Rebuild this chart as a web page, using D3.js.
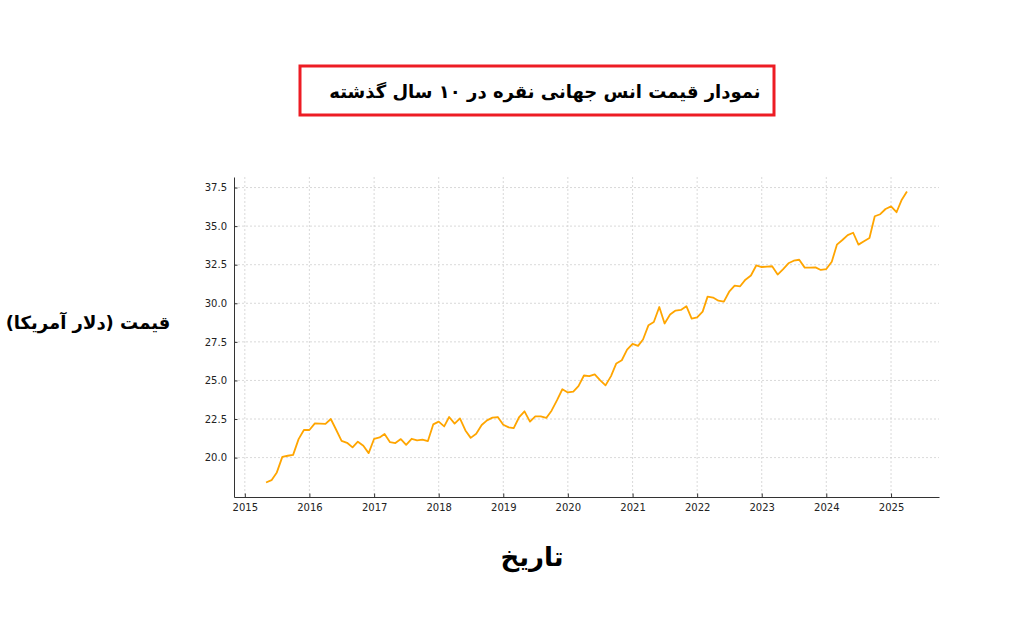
<!DOCTYPE html>
<html>
<head>
<meta charset="utf-8">
<script src="https://cdn.jsdelivr.net/npm/d3@7"></script>
<style>
  body { margin: 0; background: #fff; }
  svg { display: block; }
  .tick text { font-family: "DejaVu Sans", sans-serif; font-size: 10px; fill: #222; }
</style>
</head>
<body>
<svg id="chart"></svg>
<script>
// monthly silver price, May 2015 .. Apr 2025 (USD / oz)
const startMonth = new Date(2015, 4, 1)
const endMonth = new Date(2025, 3, 1)
const prices = [
  18.39, 18.54, 19.04, 20.05, 20.12, 20.18, 21.2, 21.79,
  21.79, 22.22, 22.2, 22.18, 22.5, 21.79, 21.09, 20.96, 20.66, 21.03, 20.77, 20.29,
  21.22, 21.31, 21.53, 21.0, 20.94, 21.2, 20.83, 21.22, 21.12, 21.16, 21.07, 22.15,
  22.33, 22.02, 22.63, 22.2, 22.54, 21.76, 21.28, 21.54, 22.11, 22.41, 22.59, 22.63,
  22.13, 21.96, 21.91, 22.63, 23.0, 22.33, 22.67, 22.67, 22.57, 23.04, 23.72, 24.43,
  24.22, 24.28, 24.63, 25.32, 25.28, 25.39, 25.02, 24.68, 25.28, 26.1, 26.31, 27.0,
  27.37, 27.24, 27.65, 28.58, 28.79, 29.76, 28.69, 29.27, 29.53, 29.57, 29.81, 29.01,
  29.09, 29.46, 30.43, 30.37, 30.17, 30.11, 30.75, 31.14, 31.1, 31.53, 31.8, 32.45,
  32.35, 32.38, 32.4, 31.86, 32.2, 32.59, 32.76, 32.82, 32.31, 32.31, 32.33, 32.16,
  32.22, 32.69, 33.8, 34.1, 34.42, 34.57, 33.8, 34.02, 34.23, 35.64, 35.77, 36.11,
  36.28, 35.9, 36.67, 37.24
]
const yTicks = [20, 22.5, 25, 27.5, 30, 32.5, 35, 37.5]
const titleText = 'نمودار قیمت انس جهانی نقره در ۱۰ سال گذشته'
const xLabel = 'تاریخ'
const yLabel = 'قیمت (دلار آمریکا)'

const width = 1024
const height = 643
const plot = {left: 234, right: 939, top: 177, bottom: 497}

const months = d3.timeMonth.range(startMonth, d3.timeMonth.offset(endMonth, 1))
const data = months.map((d, i) => ({date: d, value: prices[i]}))

const svg = d3.select('#chart')
  .attr('width', width)
  .attr('height', height)

// matplotlib-like 5% padding
const t0 = +startMonth, t1 = +endMonth
const tPad = (t1 - t0) * 0.05
const xScale = d3.scaleTime()
  .domain([new Date(t0 - tPad), new Date(t1 + tPad)])
  .range([plot.left, plot.right])

const vMin = d3.min(prices), vMax = d3.max(prices)
const vPad = (vMax - vMin) * 0.05
const yScale = d3.scaleLinear()
  .domain([vMin - vPad, vMax + vPad])
  .range([plot.bottom, plot.top])

const xTicks = d3.timeYear.range(new Date(2015, 0, 1), new Date(2025, 1, 1))

// grid
const grid = svg.append('g')
grid.selectAll('.vgrid')
  .data(xTicks)
  .join('line')
  .attr('x1', d => xScale(d)).attr('x2', d => xScale(d))
  .attr('y1', plot.top).attr('y2', plot.bottom)
  .attr('stroke', '#cfcfcf').attr('stroke-width', 0.8)
  .attr('stroke-dasharray', '2,2')
grid.selectAll('.hgrid')
  .data(yTicks)
  .join('line')
  .attr('y1', d => yScale(d)).attr('y2', d => yScale(d))
  .attr('x1', plot.left).attr('x2', plot.right)
  .attr('stroke', '#cfcfcf').attr('stroke-width', 0.8)
  .attr('stroke-dasharray', '2,2')

// axes
const xAxis = d3.axisBottom(xScale)
  .tickValues(xTicks)
  .tickFormat(d3.timeFormat('%Y'))
  .tickSizeInner(-3.5).tickSizeOuter(0).tickPadding(7)
const yAxis = d3.axisLeft(yScale)
  .tickValues(yTicks)
  .tickFormat(d3.format('.1f'))
  .tickSizeInner(-3.5).tickSizeOuter(0).tickPadding(7)

const gx = svg.append('g')
  .attr('transform', 'translate(0,' + plot.bottom + ')')
  .call(xAxis)
gx.select('.domain').attr('stroke', '#333').attr('stroke-width', 1)
gx.selectAll('.tick line').attr('stroke', '#333')

const gy = svg.append('g')
  .attr('transform', 'translate(' + plot.left + ',0)')
  .call(yAxis)
gy.select('.domain').attr('stroke', '#333').attr('stroke-width', 1)
gy.selectAll('.tick line').attr('stroke', '#333')

// line
const lineGenerator = d3.line()
  .x(d => xScale(d.date))
  .y(d => yScale(d.value))
svg.append('path')
  .datum(data)
  .attr('fill', 'none')
  .attr('stroke', '#ffa500')
  .attr('stroke-width', 1.8)
  .attr('stroke-linejoin', 'round')
  .attr('d', lineGenerator)

// title in red box
svg.append('rect')
  .attr('x', 300).attr('y', 66)
  .attr('width', 474).attr('height', 49)
  .attr('fill', 'none')
  .attr('stroke', '#ed1c24')
  .attr('stroke-width', 3)
svg.append('text')
  .attr('x', 545).attr('y', 98)
  .attr('text-anchor', 'middle')
  .attr('direction', 'rtl')
  .style('font-family', '"DejaVu Sans", sans-serif')
  .style('font-weight', 'bold')
  .style('font-size', '18px')
  .text(titleText)

// axis labels
svg.append('text')
  .attr('x', 532).attr('y', 566)
  .attr('text-anchor', 'middle')
  .attr('direction', 'rtl')
  .style('font-family', '"DejaVu Sans", sans-serif')
  .style('font-weight', 'bold')
  .style('font-size', '26px')
  .text(xLabel)

svg.append('text')
  .attr('x', 88).attr('y', 329)
  .attr('text-anchor', 'middle')
  .attr('direction', 'rtl')
  .style('font-family', '"DejaVu Sans", sans-serif')
  .style('font-weight', 'bold')
  .style('font-size', '18px')
  .text(yLabel)
</script>
</body>
</html>
